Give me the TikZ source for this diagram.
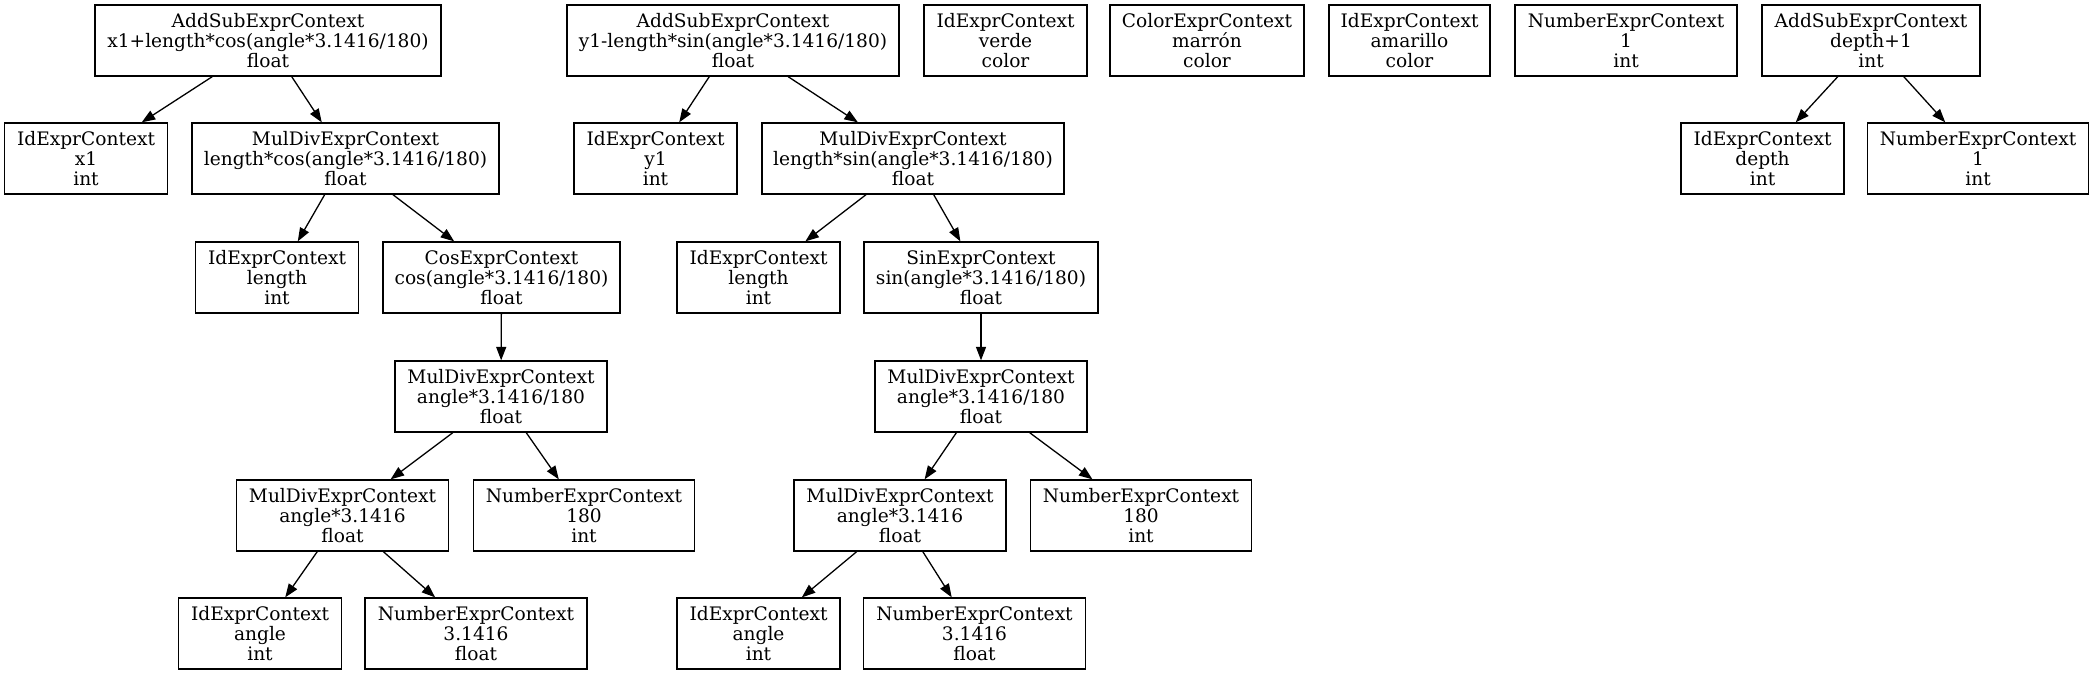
\documentclass[tikz,border=0pt]{standalone}
\usepackage{fontspec}
\setmainfont{DejaVu Serif}
\usetikzlibrary{arrows.meta}
\begin{document}
\begin{tikzpicture}[x=1pt,y=-1pt,
  box/.style={draw, line width=1.3pt, minimum height=71pt, inner sep=0pt, align=center,
    font=\fontsize{18.6}{19.8}\selectfont},
  edge/.style={line width=1.3pt, -{Triangle[length=13.5pt,width=10pt]}}]
\useasboundingbox (0,0) rectangle (2095,675);
% row 1
\node[box, minimum width=346pt] (r1) at (268,40.5) {AddSubExprContext\\x1+length*cos(angle*3.1416/180)\\float};
\node[box, minimum width=332pt] (r2) at (733,40.5) {AddSubExprContext\\y1-length*sin(angle*3.1416/180)\\float};
\node[box, minimum width=163pt] (verde) at (1005.5,40.5) {IdExprContext\\verde\\color};
\node[box, minimum width=194pt] (marron) at (1207,40.5) {ColorExprContext\\marrón\\color};
\node[box, minimum width=161pt] (amarillo) at (1409.5,40.5) {IdExprContext\\amarillo\\color};
\node[box, minimum width=222pt] (numA) at (1626,40.5) {NumberExprContext\\1\\int};
\node[box, minimum width=218pt] (add2) at (1871,40.5) {AddSubExprContext\\depth+1\\int};
% row 2
\node[box, minimum width=163pt] (x1) at (86,158.5) {IdExprContext\\x1\\int};
\node[box, minimum width=307pt] (mdcos) at (345.5,158.5) {MulDivExprContext\\length*cos(angle*3.1416/180)\\float};
\node[box, minimum width=163pt] (y1) at (655.5,158.5) {IdExprContext\\y1\\int};
\node[box, minimum width=302pt] (mdsin) at (913,158.5) {MulDivExprContext\\length*sin(angle*3.1416/180)\\float};
\node[box, minimum width=163pt] (depth) at (1762.5,158.5) {IdExprContext\\depth\\int};
\node[box, minimum width=221pt] (numB) at (1978,158.5) {NumberExprContext\\1\\int};
% row 3
\node[box, minimum width=163pt] (lenL) at (277,277.5) {IdExprContext\\length\\int};
\node[box, minimum width=237pt] (cos) at (501.5,277.5) {CosExprContext\\cos(angle*3.1416/180)\\float};
\node[box, minimum width=163pt] (lenR) at (758.5,277.5) {IdExprContext\\length\\int};
\node[box, minimum width=234pt] (sin) at (981,277.5) {SinExprContext\\sin(angle*3.1416/180)\\float};
% row 4
\node[box, minimum width=212pt] (mdaL) at (501,396.5) {MulDivExprContext\\angle*3.1416/180\\float};
\node[box, minimum width=212pt] (mdaR) at (981,396.5) {MulDivExprContext\\angle*3.1416/180\\float};
% row 5
\node[box, minimum width=212pt] (mdbL) at (342.5,515.5) {MulDivExprContext\\angle*3.1416\\float};
\node[box, minimum width=221pt] (n180L) at (584,515.5) {NumberExprContext\\180\\int};
\node[box, minimum width=212pt] (mdbR) at (900,515.5) {MulDivExprContext\\angle*3.1416\\float};
\node[box, minimum width=221pt] (n180R) at (1141,515.5) {NumberExprContext\\180\\int};
% row 6
\node[box, minimum width=163pt] (angL) at (260,633.5) {IdExprContext\\angle\\int};
\node[box, minimum width=222pt] (n3L) at (476,633.5) {NumberExprContext\\3.1416\\float};
\node[box, minimum width=163pt] (angR) at (758.5,633.5) {IdExprContext\\angle\\int};
\node[box, minimum width=222pt] (n3R) at (974.5,633.5) {NumberExprContext\\3.1416\\float};
% edges
\draw[edge] (r1) -- (x1);
\draw[edge] (r1) -- (mdcos);
\draw[edge] (mdcos) -- (lenL);
\draw[edge] (mdcos) -- (cos);
\draw[edge] (cos) -- (mdaL);
\draw[edge] (mdaL) -- (mdbL);
\draw[edge] (mdaL) -- (n180L);
\draw[edge] (mdbL) -- (angL);
\draw[edge] (mdbL) -- (n3L);
\draw[edge] (r2) -- (y1);
\draw[edge] (r2) -- (mdsin);
\draw[edge] (mdsin) -- (lenR);
\draw[edge] (mdsin) -- (sin);
\draw[edge] (sin) -- (mdaR);
\draw[edge] (mdaR) -- (mdbR);
\draw[edge] (mdaR) -- (n180R);
\draw[edge] (mdbR) -- (angR);
\draw[edge] (mdbR) -- (n3R);
\draw[edge] (add2) -- (depth);
\draw[edge] (add2) -- (numB);
\end{tikzpicture}
\end{document}
